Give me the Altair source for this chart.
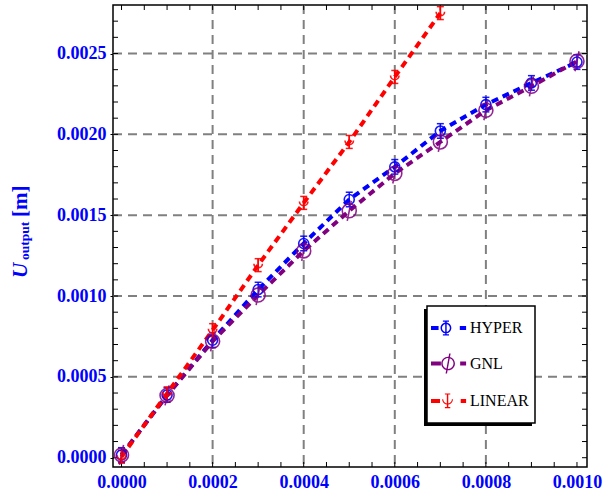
import altair as alt
import pandas as pd
import numpy as np

# ---- data ----
series_names = ["HYPER", "GNL", "LINEAR"]
colors = ["#0000ff", "#800080", "#ff0000"]

x_vals = [0.0, 0.0001, 0.0002, 0.0003, 0.0004, 0.0005, 0.0006, 0.0007, 0.0008, 0.0009, 0.0010]
hyper = [0.000017, 0.000388, 0.000727, 0.001040, 0.001325, 0.001597, 0.001799, 0.002021, 0.002184, 0.002318, 0.002447]
gnl = [0.000017, 0.000385, 0.000720, 0.001006, 0.001279, 0.001527, 0.001758, 0.001953, 0.002149, 0.002297, 0.002452]
x_linear = [0.0, 0.0001, 0.0002, 0.0003, 0.0004, 0.0005, 0.0006, 0.0007]
linear = [0.000006, 0.000398, 0.000789, 0.001191, 0.001576, 0.001953, 0.002355, 0.002750]
hyper_err = [0.000045] * 11
linear_err = [0.00004] * 8

x_tick_labels = [0.0, 0.0002, 0.0004, 0.0006, 0.0008, 0.0010]
y_tick_labels = [0.0, 0.0005, 0.0010, 0.0015, 0.0020, 0.0025]
x_grid = [0.0002, 0.0004, 0.0006, 0.0008]
y_grid = [0.0005, 0.0010, 0.0015, 0.0020, 0.0025]
x_minor = [round(0.00005 * i, 6) for i in range(21)]
y_minor = [round(0.0001 * i, 6) for i in range(28)]

W, H = 474, 462
FONT = "Liberation Serif"
BLUE = "#0000ff"

df_h = pd.DataFrame({"x": x_vals, "y": hyper, "err": hyper_err})
df_g = pd.DataFrame({"x": x_vals, "y": gnl})
df_l = pd.DataFrame({"x": x_linear, "y": linear, "err": linear_err})

xs = alt.Scale(domain=[-0.0000187, 0.001022], nice=False, zero=False)
ys = alt.Scale(domain=[-0.0000575, 0.0028], nice=False, zero=False)
xaxis = alt.Axis(values=x_tick_labels, format=".4f", title=None, domain=False, ticks=False,
                 grid=False, labelPadding=6, labelFlush=False,
                 labelFont=FONT, labelFontWeight="bold", labelFontSize=18, labelColor=BLUE)
yaxis = alt.Axis(values=y_tick_labels, format=".4f", title=None, domain=False, ticks=True,
                 tickSize=3, tickColor="black", tickWidth=1, grid=False, labelPadding=4,
                 labelFont=FONT, labelFontWeight="bold", labelFontSize=18, labelColor=BLUE)


def X(f):
    return alt.X(f, scale=xs, axis=xaxis)


def Y(f):
    return alt.Y(f, scale=ys, axis=yaxis)


layers = []

# grid lines
layers.append(alt.Chart(pd.DataFrame({"v": x_grid})).mark_rule(
    color="#808080", strokeWidth=2, strokeDash=[9, 6]).encode(x=X("v:Q")))
layers.append(alt.Chart(pd.DataFrame({"v": y_grid})).mark_rule(
    color="#808080", strokeWidth=2, strokeDash=[9, 6]).encode(y=Y("v:Q")))

# inside ticks
xt = pd.DataFrame({"v": x_minor})
yt = pd.DataFrame({"v": y_minor})
tk = dict(color="black", strokeWidth=1)
layers.append(alt.Chart(xt).mark_rule(**tk).encode(x=X("v:Q"), y=alt.value(H), y2=alt.value(H - 5)))
layers.append(alt.Chart(xt).mark_rule(**tk).encode(x=X("v:Q"), y=alt.value(0), y2=alt.value(5)))
layers.append(alt.Chart(yt).mark_rule(**tk).encode(y=Y("v:Q"), x=alt.value(0), x2=alt.value(5)))
layers.append(alt.Chart(yt).mark_rule(**tk).encode(y=Y("v:Q"), x=alt.value(W), x2=alt.value(W - 5)))

# lines
line_kw = dict(strokeWidth=4, strokeDash=[7, 5], strokeCap="butt", clip=True)
layers.append(alt.Chart(df_h).mark_line(color=colors[0], **line_kw).encode(x=X("x:Q"), y=Y("y:Q")))
layers.append(alt.Chart(df_g).mark_line(color=colors[1], **line_kw).encode(x=X("x:Q"), y=Y("y:Q")))
layers.append(alt.Chart(df_l).mark_line(color=colors[2], **line_kw).encode(x=X("x:Q"), y=Y("y:Q")))

# error bars
for df, col in [(df_h, colors[0]), (df_l, colors[2])]:
    base = alt.Chart(df).transform_calculate(lo="datum.y - datum.err", hi="datum.y + datum.err")
    layers.append(base.mark_rule(color=col, strokeWidth=1.5, opacity=0.9).encode(
        x=X("x:Q"), y=Y("lo:Q"), y2="hi:Q"))
    layers.append(base.mark_tick(color=col, orient="horizontal", size=7, thickness=1.5, opacity=0.9).encode(
        x=X("x:Q"), y=Y("lo:Q")))
    layers.append(base.mark_tick(color=col, orient="horizontal", size=7, thickness=1.5, opacity=0.9).encode(
        x=X("x:Q"), y=Y("hi:Q")))

# markers
gnl_shape = "M0.7,0A0.7,0.7 0 1,0 -0.7,0A0.7,0.7 0 1,0 0.7,0M0.2,-1L-0.2,1"
lin_shape = "M-0.6,-0.2A0.6,0.6 0 0,0 0.6,-0.2M0,-0.9L0,0.9"
layers.append(alt.Chart(df_h).mark_point(shape="circle", size=100, filled=False, strokeWidth=1.6,
                                         color=colors[0], opacity=0.9).encode(x=X("x:Q"), y=Y("y:Q")))
layers.append(alt.Chart(df_g).mark_point(shape=gnl_shape, size=400, filled=False, strokeWidth=1.6,
                                         color=colors[1], opacity=0.85).encode(x=X("x:Q"), y=Y("y:Q")))
layers.append(alt.Chart(df_l).mark_point(shape=lin_shape, size=200, filled=False, strokeWidth=1.6,
                                         color=colors[2], opacity=0.9).encode(x=X("x:Q"), y=Y("y:Q")))


# legend symbols (filled composite paths: dash - marker - dash)
def rect(x0, y0, x1, y1):
    return f"M{x0},{y0}H{x1}V{y1}H{x0}Z"


def rect_ccw(x0, y0, x1, y1):
    return f"M{x0},{y0}V{y1}H{x1}V{y0}Z"


def ring(cx, R, r):
    return (f"M{cx + R},0A{R},{R} 0 1,1 {cx - R},0A{R},{R} 0 1,1 {cx + R},0Z"
            f"M{cx + r},0A{r},{r} 0 1,0 {cx - r},0A{r},{r} 0 1,0 {cx + r},0Z")


d = 0.11
hy_cx = -0.17
sym_h = (rect(-1, -d, -0.58, d) + ring(hy_cx, 0.3, 0.22)
         + rect(hy_cx - 0.04, -0.4, hy_cx + 0.04, 0.4)
         + rect(hy_cx - 0.17, -0.42, hy_cx + 0.17, -0.35)
         + rect(hy_cx - 0.17, 0.35, hy_cx + 0.17, 0.42)
         + rect(0.6, -d, 0.95, d))
g_cx = -0.05
sym_g = (rect(-1, -d, -0.45, d) + ring(g_cx, 0.38, 0.3)
         + "M0.01,-0.55L0.09,-0.55L-0.11,0.55L-0.19,0.55Z"
         + rect(0.62, -d, 0.95, d))
l_cx = -0.08
sym_l = (rect(-1, -d, -0.5, d)
         + f"M{l_cx - 0.3},-0.1A0.3,0.3 0 0,0 {l_cx + 0.3},-0.1L{l_cx + 0.24},-0.1"
           f"A0.24,0.24 0 0,1 {l_cx - 0.24},-0.1Z"
         + rect_ccw(l_cx - 0.04, -0.42, l_cx + 0.04, 0.4)
         + rect_ccw(l_cx - 0.15, -0.42, l_cx + 0.15, -0.36)
         + rect_ccw(l_cx - 0.15, 0.34, l_cx + 0.15, 0.4)
         + rect(0.65, -d, 0.95, d))

one = pd.DataFrame({"a": [0]})
# legend shadow and box
layers.append(alt.Chart(one).mark_rect(color="black").encode(
    x=alt.value(311), x2=alt.value(419), y=alt.value(304), y2=alt.value(421)))
layers.append(alt.Chart(one).mark_rect(fill="white", stroke="black", strokeWidth=1.5).encode(
    x=alt.value(314), x2=alt.value(422), y=alt.value(301), y2=alt.value(418)))

leg_df = pd.DataFrame({"series": series_names, "x": [0.0] * 3, "y": [0.0] * 3})
layers.append(alt.Chart(leg_df).transform_filter("datum.x > 1").mark_point(
    filled=True, opacity=1, size=1296, strokeWidth=0).encode(
    x=X("x:Q"), y=Y("y:Q"),
    color=alt.Color("series:N", scale=alt.Scale(domain=series_names, range=colors),
                    legend=alt.Legend(title=None)),
    shape=alt.Shape("series:N", scale=alt.Scale(domain=series_names, range=[sym_h, sym_g, sym_l]),
                    legend=alt.Legend(title=None)),
))

# y title: U_output [m]
tkw = dict(angle=270, align="left", baseline="alphabetic", font=FONT, fontWeight="bold", color=BLUE)
layers.append(alt.Chart(one).mark_text(fontSize=21, fontStyle="italic", **tkw).encode(
    x=alt.value(-86), y=alt.value(273), text=alt.value("U")))
layers.append(alt.Chart(one).mark_text(fontSize=13.5, **tkw).encode(
    x=alt.value(-84), y=alt.value(255), text=alt.value("output")))
layers.append(alt.Chart(one).mark_text(fontSize=21, **tkw).encode(
    x=alt.value(-86), y=alt.value(212), text=alt.value("[m]")))

chart = alt.layer(*layers).properties(
    width=W, height=H,
    autosize=alt.AutoSizeParams(type="none"),
    padding={"left": 113, "top": 5, "right": 26, "bottom": 30},
).configure_view(stroke="black", strokeWidth=1.5).configure_legend(
    orient="none", legendX=314, legendY=301, padding=4,
    labelFont=FONT, labelFontSize=16, labelColor="black", labelFontWeight="normal",
    labelOffset=3, rowPadding=9.5, symbolStrokeWidth=0, labelLimit=300, symbolSize=1296,
)

chart.save("out.html", embed_options={"renderer": "svg", "actions": False})
